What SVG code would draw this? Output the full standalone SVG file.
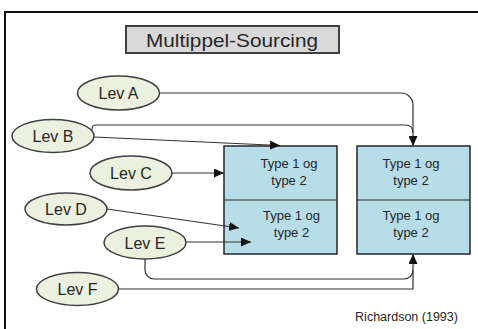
<svg xmlns="http://www.w3.org/2000/svg" width="478" height="329" viewBox="0 0 478 329">
  <style>
    .lev ellipse { fill: #ebf1de; stroke: #404040; stroke-width: 1.5; }
    .lev text { font-family: "Liberation Sans", Arial, sans-serif; font-size: 16px; fill: #262626; text-anchor: middle; }
    .box rect { fill: #b7dde8; stroke: #262626; stroke-width: 1.5; }
    .box line { stroke: #262626; stroke-width: 1.2; }
    .box text { font-family: "Liberation Sans", Arial, sans-serif; font-size: 13px; fill: #262626; text-anchor: middle; }
    .conn path { fill: none; stroke: #333; stroke-width: 1.2; }
    .conn path.arrow { marker-end: url(#head); }
  </style>
  <defs>
    <marker id="head" markerUnits="userSpaceOnUse" markerWidth="10" markerHeight="9" refX="10" refY="4.5" orient="auto">
      <path d="M0,0 L10,4.5 L0,9 z" fill="#111"/>
    </marker>
  </defs>

  <rect width="478" height="329" fill="#fff"/>
  <!-- outer frame (runs off the right and bottom edges) -->
  <rect x="5" y="12" width="500" height="340" fill="none" stroke="#111" stroke-width="2"/>

  <!-- title -->
  <g id="title">
    <rect x="126" y="26" width="213" height="27" fill="#d9d9d9" stroke="#404040" stroke-width="2"/>
    <text x="232" y="46.5" font-family="'Liberation Sans', Arial, sans-serif" font-size="19" fill="#262626" text-anchor="middle" textLength="172" lengthAdjust="spacingAndGlyphs">Multippel-Sourcing</text>
  </g>

  <!-- buyers -->
  <g id="buyer-1" class="box">
    <rect x="224" y="146" width="113" height="108"/>
    <line x1="224" y1="200" x2="337" y2="200"/>
    <text x="289" y="168">Type 1 og</text>
    <text x="289" y="185">type 2</text>
    <text x="291.5" y="220">Type 1 og</text>
    <text x="291.5" y="237">type 2</text>
  </g>
  <g id="buyer-2" class="box">
    <rect x="357" y="146" width="113" height="108"/>
    <line x1="357" y1="200" x2="470" y2="200"/>
    <text x="411" y="168">Type 1 og</text>
    <text x="411" y="185">type 2</text>
    <text x="411" y="220">Type 1 og</text>
    <text x="411" y="237">type 2</text>
  </g>

  <!-- connectors -->
  <g id="connectors" class="conn">
    <path class="arrow" d="M160,93 H401 A12,12 0 0 1 413,105 V146"/>
    <path d="M92,131 V129 Q92,125 96,125 H405 Q413,125 413,133"/>
    <path class="arrow" d="M94,137 L280,145.5"/>
    <path class="arrow" d="M172,173 L224,173"/>
    <path class="arrow" d="M107,209 L239,228"/>
    <path class="arrow" d="M186,242 L251,242"/>
    <path d="M145,259 V270 A9,9 0 0 0 154,279 H404 A9,9 0 0 0 413,270"/>
    <path class="arrow" d="M119,289 H413 V254"/>
  </g>

  <!-- suppliers -->
  <g id="lev-a" class="lev"><ellipse cx="118.5" cy="93" rx="41" ry="17"/><text x="118.5" y="99">Lev A</text></g>
  <g id="lev-b" class="lev"><ellipse cx="53" cy="136" rx="41" ry="16.5"/><text x="53" y="142">Lev B</text></g>
  <g id="lev-c" class="lev"><ellipse cx="131" cy="173" rx="41" ry="17"/><text x="131" y="179">Lev C</text></g>
  <g id="lev-d" class="lev"><ellipse cx="66" cy="209" rx="41" ry="16"/><text x="66" y="215">Lev D</text></g>
  <g id="lev-e" class="lev"><ellipse cx="145" cy="242.5" rx="41" ry="16.5"/><text x="145" y="248.5">Lev E</text></g>
  <g id="lev-f" class="lev"><ellipse cx="77.5" cy="289" rx="41" ry="16.5"/><text x="77.5" y="295">Lev F</text></g>

  <text x="406.5" y="321" font-family="'Liberation Sans', Arial, sans-serif" font-size="12.5" fill="#262626" text-anchor="middle">Richardson (1993)</text>
</svg>
